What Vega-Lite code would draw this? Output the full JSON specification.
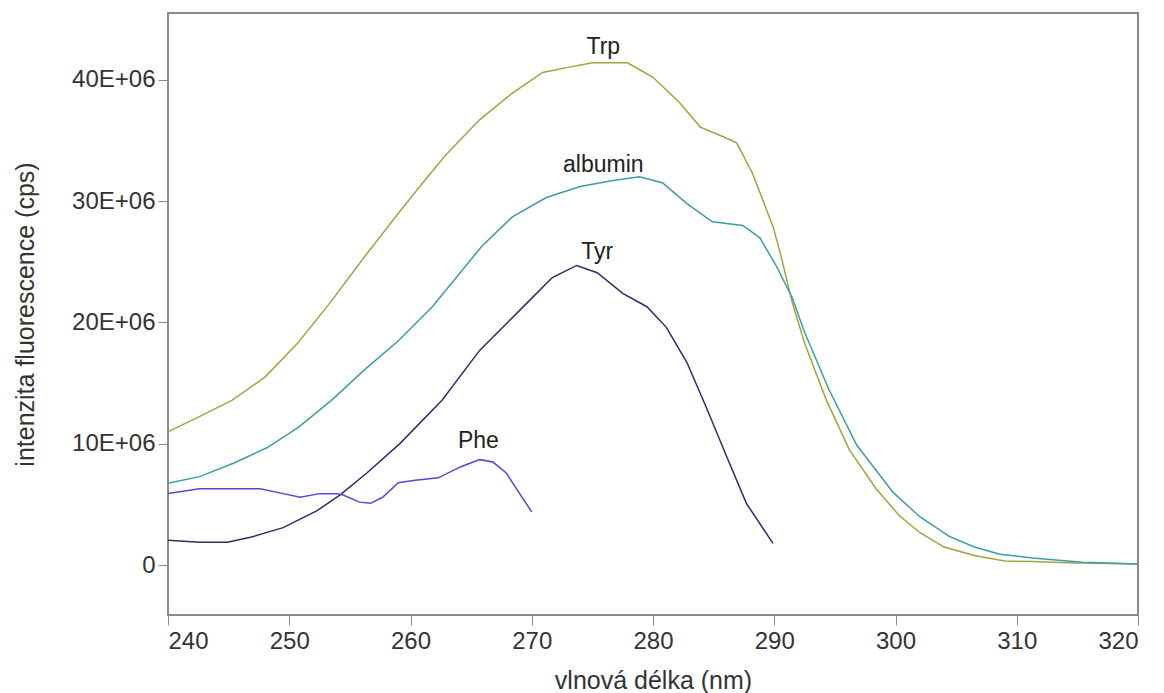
{
  "$schema": "https://vega.github.io/schema/vega-lite/v6.json",
  "width": 970,
  "height": 602,
  "autosize": {"type": "none"},
  "padding": {"left": 168, "top": 13, "right": 26, "bottom": 78},
  "background": "white",
  "config": {
    "view": {"stroke": "#8a8a8a", "strokeWidth": 2},
    "font": "Liberation Sans",
    "axis": {"grid": false, "domain": false, "tickColor": "#8a8a8a", "tickSize": 10, "labelColor": "#333333", "titleColor": "#333333", "labelFont": "Liberation Sans", "titleFont": "Liberation Sans", "labelFontSize": 24, "titleFontSize": 25, "titleFontWeight": "normal"}
  },
  "datasets": {
    "curves": [
      {"s": "Trp", "nm": 240, "v": 11.0}, {"s": "Trp", "nm": 242.5, "v": 12.2}, {"s": "Trp", "nm": 245.3, "v": 13.6}, {"s": "Trp", "nm": 248, "v": 15.5}, {"s": "Trp", "nm": 250.7, "v": 18.3}, {"s": "Trp", "nm": 253.5, "v": 21.8}, {"s": "Trp", "nm": 256.2, "v": 25.4}, {"s": "Trp", "nm": 259, "v": 29.0}, {"s": "Trp", "nm": 261, "v": 31.5}, {"s": "Trp", "nm": 263, "v": 33.9}, {"s": "Trp", "nm": 265.7, "v": 36.7}, {"s": "Trp", "nm": 268.4, "v": 38.9}, {"s": "Trp", "nm": 270.9, "v": 40.6}, {"s": "Trp", "nm": 272.9, "v": 41.0}, {"s": "Trp", "nm": 275, "v": 41.4}, {"s": "Trp", "nm": 277.9, "v": 41.4}, {"s": "Trp", "nm": 280, "v": 40.2}, {"s": "Trp", "nm": 282.2, "v": 38.1}, {"s": "Trp", "nm": 283.9, "v": 36.1}, {"s": "Trp", "nm": 285.8, "v": 35.3}, {"s": "Trp", "nm": 286.9, "v": 34.8}, {"s": "Trp", "nm": 288.2, "v": 32.3}, {"s": "Trp", "nm": 289.9, "v": 27.9}, {"s": "Trp", "nm": 290.5, "v": 25.7}, {"s": "Trp", "nm": 291.5, "v": 21.6}, {"s": "Trp", "nm": 292.5, "v": 18.3}, {"s": "Trp", "nm": 294.3, "v": 13.6}, {"s": "Trp", "nm": 296.2, "v": 9.5}, {"s": "Trp", "nm": 298.4, "v": 6.3}, {"s": "Trp", "nm": 300.3, "v": 4.1}, {"s": "Trp", "nm": 302, "v": 2.7}, {"s": "Trp", "nm": 304, "v": 1.5}, {"s": "Trp", "nm": 306.5, "v": 0.8}, {"s": "Trp", "nm": 309, "v": 0.35}, {"s": "Trp", "nm": 311.3, "v": 0.3}, {"s": "Trp", "nm": 314.1, "v": 0.2}, {"s": "Trp", "nm": 320, "v": 0.1},
      {"s": "albumin", "nm": 240, "v": 6.75}, {"s": "albumin", "nm": 242.6, "v": 7.3}, {"s": "albumin", "nm": 245.4, "v": 8.4}, {"s": "albumin", "nm": 248.2, "v": 9.7}, {"s": "albumin", "nm": 250.8, "v": 11.4}, {"s": "albumin", "nm": 253.5, "v": 13.6}, {"s": "albumin", "nm": 256.2, "v": 16.1}, {"s": "albumin", "nm": 259, "v": 18.5}, {"s": "albumin", "nm": 261.8, "v": 21.3}, {"s": "albumin", "nm": 264.5, "v": 24.6}, {"s": "albumin", "nm": 265.9, "v": 26.3}, {"s": "albumin", "nm": 268.4, "v": 28.7}, {"s": "albumin", "nm": 271.2, "v": 30.3}, {"s": "albumin", "nm": 274, "v": 31.2}, {"s": "albumin", "nm": 276.7, "v": 31.7}, {"s": "albumin", "nm": 278.9, "v": 32.0}, {"s": "albumin", "nm": 280.8, "v": 31.5}, {"s": "albumin", "nm": 282.8, "v": 29.8}, {"s": "albumin", "nm": 284.9, "v": 28.3}, {"s": "albumin", "nm": 287.4, "v": 28.0}, {"s": "albumin", "nm": 288.8, "v": 27.0}, {"s": "albumin", "nm": 290.2, "v": 24.6}, {"s": "albumin", "nm": 291.5, "v": 22.0}, {"s": "albumin", "nm": 292.5, "v": 19.2}, {"s": "albumin", "nm": 294.5, "v": 14.5}, {"s": "albumin", "nm": 296.8, "v": 9.9}, {"s": "albumin", "nm": 299.8, "v": 6.0}, {"s": "albumin", "nm": 302, "v": 4.0}, {"s": "albumin", "nm": 304.4, "v": 2.4}, {"s": "albumin", "nm": 306.5, "v": 1.5}, {"s": "albumin", "nm": 308.6, "v": 0.9}, {"s": "albumin", "nm": 311.3, "v": 0.6}, {"s": "albumin", "nm": 315.4, "v": 0.25}, {"s": "albumin", "nm": 320, "v": 0.1},
      {"s": "Tyr", "nm": 240, "v": 2.06}, {"s": "Tyr", "nm": 242.6, "v": 1.9}, {"s": "Tyr", "nm": 244.9, "v": 1.9}, {"s": "Tyr", "nm": 246.8, "v": 2.3}, {"s": "Tyr", "nm": 249.5, "v": 3.1}, {"s": "Tyr", "nm": 252.3, "v": 4.5}, {"s": "Tyr", "nm": 254.2, "v": 5.8}, {"s": "Tyr", "nm": 256.4, "v": 7.6}, {"s": "Tyr", "nm": 259.1, "v": 10.0}, {"s": "Tyr", "nm": 262.6, "v": 13.6}, {"s": "Tyr", "nm": 265.7, "v": 17.7}, {"s": "Tyr", "nm": 268, "v": 20.0}, {"s": "Tyr", "nm": 269.8, "v": 21.8}, {"s": "Tyr", "nm": 271.7, "v": 23.7}, {"s": "Tyr", "nm": 273.7, "v": 24.7}, {"s": "Tyr", "nm": 275.4, "v": 24.1}, {"s": "Tyr", "nm": 277.5, "v": 22.4}, {"s": "Tyr", "nm": 279.5, "v": 21.3}, {"s": "Tyr", "nm": 281.1, "v": 19.6}, {"s": "Tyr", "nm": 282.8, "v": 16.7}, {"s": "Tyr", "nm": 284.4, "v": 13.0}, {"s": "Tyr", "nm": 286.1, "v": 8.9}, {"s": "Tyr", "nm": 287.7, "v": 5.1}, {"s": "Tyr", "nm": 289.9, "v": 1.8},
      {"s": "Phe", "nm": 240, "v": 5.9}, {"s": "Phe", "nm": 242.6, "v": 6.3}, {"s": "Phe", "nm": 245.4, "v": 6.3}, {"s": "Phe", "nm": 247.6, "v": 6.3}, {"s": "Phe", "nm": 249.5, "v": 5.9}, {"s": "Phe", "nm": 250.9, "v": 5.6}, {"s": "Phe", "nm": 252.5, "v": 5.9}, {"s": "Phe", "nm": 253.9, "v": 5.9}, {"s": "Phe", "nm": 254.4, "v": 5.8}, {"s": "Phe", "nm": 255.8, "v": 5.2}, {"s": "Phe", "nm": 256.7, "v": 5.1}, {"s": "Phe", "nm": 257.7, "v": 5.6}, {"s": "Phe", "nm": 259, "v": 6.8}, {"s": "Phe", "nm": 260.4, "v": 7.0}, {"s": "Phe", "nm": 262.3, "v": 7.2}, {"s": "Phe", "nm": 264.1, "v": 8.1}, {"s": "Phe", "nm": 265.7, "v": 8.7}, {"s": "Phe", "nm": 266.8, "v": 8.5}, {"s": "Phe", "nm": 267.9, "v": 7.6}, {"s": "Phe", "nm": 269, "v": 5.9}, {"s": "Phe", "nm": 270, "v": 4.4}
    ],
    "labels": [
      {"s": "Trp", "nm": 275.9, "v": 42.7},
      {"s": "albumin", "nm": 275.9, "v": 33.0},
      {"s": "Tyr", "nm": 275.4, "v": 25.8},
      {"s": "Phe", "nm": 265.6, "v": 10.2}
    ]
  },
  "layer": [
    {
      "data": {"name": "curves"},
      "mark": {"type": "line", "strokeWidth": 1.5, "clip": true},
      "encoding": {
        "x": {"field": "nm", "type": "quantitative", "scale": {"domain": [240, 320], "nice": false},
              "axis": {"values": [240, 250, 260, 270, 280, 290, 300, 310, 320], "title": "vlnová délka (nm)", "labelPadding": 4, "titlePadding": 15}},
        "y": {"field": "v", "type": "quantitative", "scale": {"domain": [-4.1, 45.5], "nice": false, "zero": false},
              "axis": {"values": [0, 10, 20, 30, 40], "labelExpr": "datum.value == 0 ? '0' : datum.value + 'E+06'", "title": "intenzita fluorescence (cps)", "labelPadding": 3, "titlePadding": 33}},
        "color": {"field": "s", "type": "nominal", "scale": {"domain": ["Trp", "albumin", "Tyr", "Phe"], "range": ["#a6a23c", "#3a9ea6", "#2c2c6c", "#4c4cd8"]}, "legend": null},
        "detail": {"field": "s"}
      }
    },
    {
      "data": {"name": "labels"},
      "mark": {"type": "text", "fontSize": 23, "color": "#222222", "font": "Liberation Sans", "baseline": "middle", "align": "center"},
      "encoding": {
        "x": {"field": "nm", "type": "quantitative"},
        "y": {"field": "v", "type": "quantitative"},
        "text": {"field": "s"}
      }
    }
  ]
}
